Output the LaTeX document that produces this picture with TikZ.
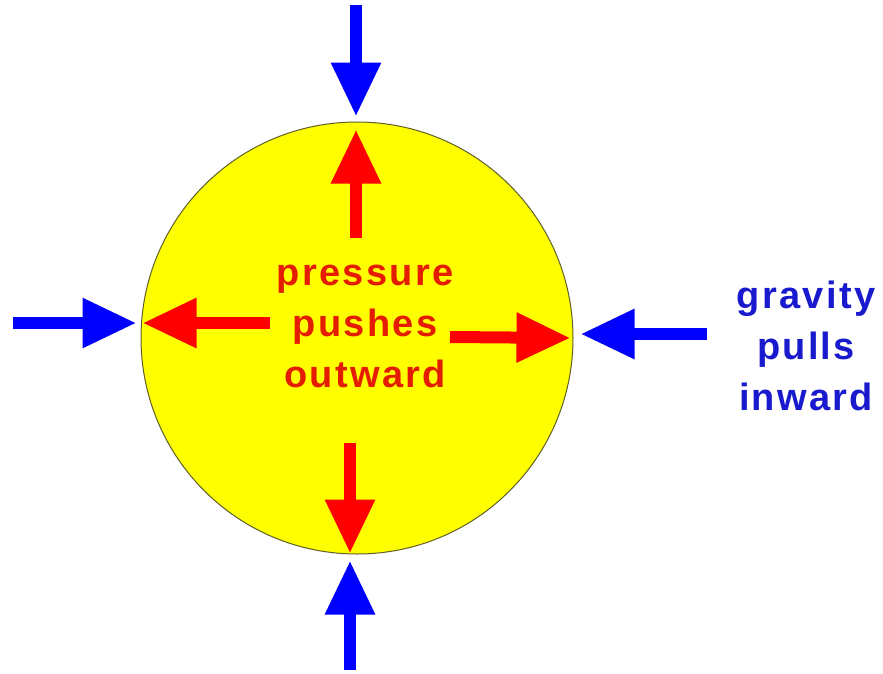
\documentclass[tikz,border=0pt]{standalone}
\usepackage{fontspec}
\setmainfont{Liberation Sans}
\usepackage{tikz}
\usetikzlibrary{arrows.meta,positioning}
\definecolor{sunyellow}{RGB}{255,255,0}
\definecolor{rimolive}{RGB}{95,95,40}
\definecolor{pushred}{RGB}{255,0,0}
\definecolor{pullblue}{RGB}{0,0,255}
\definecolor{pushtext}{RGB}{228,28,0}
\definecolor{pulltext}{RGB}{25,25,205}

\begin{document}
\begin{tikzpicture}[x=1pt, y=-1pt,
    ball/.style={circle, draw=rimolive, line width=1pt, fill=sunyellow,
                 minimum size=432pt, inner sep=0pt},
    force/.style={line width=12pt, draw=#1,
                  -{Triangle[length=54pt, width=47pt, fill=#1]}},
    lbl/.style={align=center, text=#1, font=\fontsize{38}{51}\selectfont\bfseries\addfontfeatures{LetterSpace=6}}
  ]
    \useasboundingbox (0,0) rectangle (883,673);

    \node[ball] (star) at (357,338) {};

    % tails of the arrows
    \coordinate (gtop)   at (356,5);
    \coordinate (ptop)   at (356,238);
    \coordinate (pbot)   at (350,443);
    \coordinate (gbot)   at (350,670);
    \coordinate (gleft)  at (13,323);
    \coordinate (pleft)  at (270,323);
    \coordinate (pright) at (450,337);
    \coordinate (gright) at (707,334);

    \node[lbl=pushtext] (press) at (365,326) {pressure\\pushes\\outward};
    \node[lbl=pulltext] (grav)  at (806,346) {gravity\\pulls\\inward};

    \draw[force=pushred, shorten >=8pt] (ptop) -- ([xshift=-1pt]star.north);
    \draw[force=pushred, shorten >=1pt] (pbot) -- ([xshift=-7pt]star.south);
    \draw[force=pushred, shorten >=2pt] (pleft) -- ([yshift=15pt]star.west);
    \draw[force=pushred, shorten >=3pt] (pright) -- (star.east);

    \draw[force=pullblue, shorten >=5pt] (gtop) -- ([xshift=-1pt]star.north);
    \draw[force=pullblue, shorten >=6pt] (gbot) -- ([xshift=-7pt]star.south);
    \draw[force=pullblue, shorten >=4pt] (gleft) -- ([yshift=15pt]star.west);
    \draw[force=pullblue, shorten >=7pt] (gright) -- ([yshift=4pt]star.east);
\end{tikzpicture}
\end{document}
